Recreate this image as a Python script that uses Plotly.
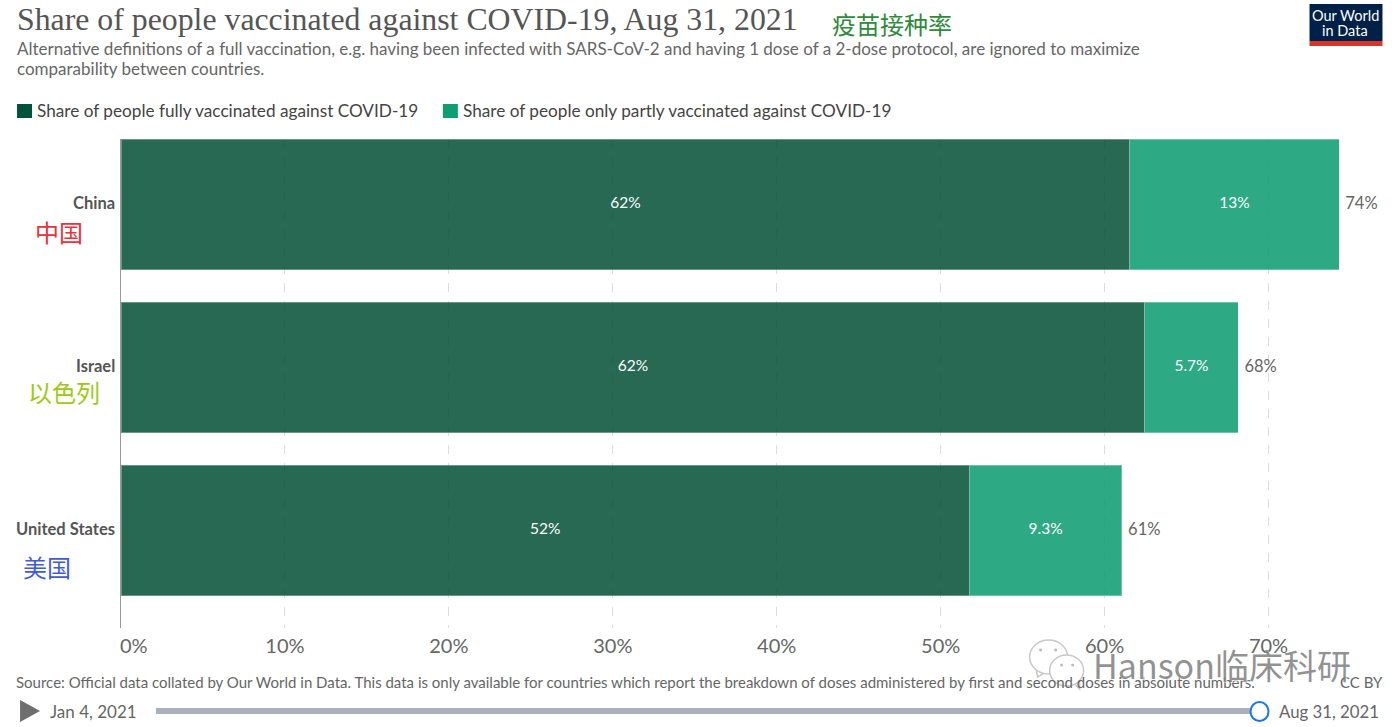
import plotly.graph_objects as go

countries = ["China", "Israel", "United States"]
fully = [61.55, 62.45, 51.75]
partly = [12.75, 5.7, 9.3]
fully_labels = ["62%", "62%", "52%"]
partly_labels = ["13%", "5.7%", "9.3%"]
total_labels = ["74%", "68%", "61%"]
cn_labels = ["中国", "以色列", "美国"]
cn_colors = ["#e8323c", "#9acb12", "#3f5bd6"]
x_ticks = [0, 10, 20, 30, 40, 50, 60, 70]
x_ticktext = ["\u00a0" * 5 + "0%", "10%", "20%", "30%", "40%", "50%", "60%", "70%"]

W, H = 1395, 727
L, R, T, B = 121, 1339.5, 139, 628
LATO = "Lato, 'Open Sans', sans-serif"
CJK = "'Noto Sans CJK SC', sans-serif"
totals = [a + b for a, b in zip(fully, partly)]


def px(x):
    return (x - L) / (R - L)


def py(y):
    return (B - y) / (B - T)


fig = go.Figure()
fig.add_bar(y=countries, x=fully, orientation="h", width=0.8, name="fully",
            marker=dict(color="#004d33", opacity=0.84, line=dict(color="rgba(255,255,255,0.3)", width=1)))
fig.add_bar(y=countries, x=partly, orientation="h", width=0.8, name="partly",
            marker=dict(color="#0f9e72", opacity=0.87, line=dict(color="rgba(255,255,255,0.3)", width=1)))
fig.add_scatter(y=countries, x=[a / 2 for a in fully], mode="text", text=fully_labels,
                textposition="middle center", textfont=dict(color="white", size=15.5, family=LATO))
fig.add_scatter(y=countries, x=[a + b / 2 for a, b in zip(fully, partly)], mode="text", text=partly_labels,
                textposition="middle center", textfont=dict(color="white", size=15.5, family=LATO))
fig.add_scatter(y=countries, x=totals, mode="text",
                text=["\u00a0\u2009" + t for t in total_labels], textposition="middle right", cliponaxis=False,
                textfont=dict(color="#666666", size=16.5, family=LATO))

ann = []


def text(x, y, s, size, color="#666666", family=LATO, anchor="left"):
    adj = {"left": -2, "right": 2, "center": 0}[anchor]
    ann.append(dict(xref="paper", yref="paper", x=px(x + adj), y=py(y), text=s, showarrow=False,
                    xanchor=anchor, yanchor="middle", font=dict(size=size, color=color, family=family),
                    align="left"))


text(17, 20, "Share of people vaccinated against COVID-19, Aug 31, 2021", 31.8, "#555555",
     "'Liberation Serif', 'DejaVu Serif', serif")
text(832, 24, "疫苗接种率", 24, "#2f8a3a", CJK)
text(17, 49, "Alternative definitions of a full vaccination, e.g. having been infected with SARS-CoV-2 and having 1 dose of a 2-dose protocol, are ignored to maximize", 17)
text(17, 68.5, "comparability between countries.", 17)
text(37, 110.5, "Share of people fully vaccinated against COVID-19", 17.2, "#444444")
text(463, 110.5, "Share of people only partly vaccinated against COVID-19", 17.2, "#444444")
for lab, col, x, y in zip(cn_labels, cn_colors, [35, 28, 23], [231.5, 391.5, 566.5]):
    text(x, y, lab, 24, col, CJK)
for name in countries:
    ann.append(dict(xref="paper", yref="y", x=px(117), y=name, yshift=2, text=name, showarrow=False,
                    xanchor="right", yanchor="middle",
                    font=dict(size=16.5, color="#555555", family=LATO, weight="bold")))
text(16, 682, "Source: Official data collated by Our World in Data. This data is only available for countries which report the breakdown of doses administered by first and second doses in absolute numbers.", 15)
text(1384, 682, "CC BY", 15, anchor="right")
text(50, 711, "Jan 4, 2021", 17)
text(1279, 711, "Aug 31, 2021", 16.8)
text(1346, 15, "Our World", 14.5, "white", anchor="center")
text(1346, 31, "in Data", 14.5, "white", anchor="center")

shapes = []


def rect(x0, y0, x1, y1, fill):
    shapes.append(dict(type="rect", xref="paper", yref="paper", x0=px(x0), x1=px(x1), y0=py(y0), y1=py(y1),
                       fillcolor=fill, line=dict(width=0)))


def circle(x0, y0, x1, y1, fill, line, width=1.5):
    shapes.append(dict(type="circle", xref="paper", yref="paper", x0=px(x0), x1=px(x1), y0=py(y0), y1=py(y1),
                       fillcolor=fill, line=dict(width=width, color=line)))


def tri(a, b, c, fill, line=None):
    shapes.append(dict(type="path", xref="paper", yref="paper", fillcolor=fill,
                       line=dict(width=1.5 if line else 0, color=line or fill),
                       path=f"M {px(a[0])} {py(a[1])} L {px(b[0])} {py(b[1])} L {px(c[0])} {py(c[1])} Z"))


rect(17, 104, 32, 118, "#00533a")
rect(443, 104, 458, 118, "#0f9e72")
rect(1310, 4, 1383, 41, "#002147")
rect(1310, 41, 1383, 46, "#d73527")
rect(156, 708, 1260, 714, "#a9b1bc")
circle(1251, 702, 1269, 721, "white", "#1a78e6", 2)
tri((20, 700), (40, 711), (20, 722), "#6e6e6e")
tri((1036, 666), (1038, 677), (1048, 671), "white", "#c8c8c8")
circle(1030, 640, 1068, 674, "white", "#c8c8c8")
tri((1073, 682), (1080, 689), (1080, 677), "white", "#c8c8c8")
circle(1050, 655, 1084, 686, "white", "#c8c8c8")
for ex, ey in [(1041, 650), (1056, 650), (1062, 665), (1073, 665)]:
    circle(ex - 1.5, ey - 1.5, ex + 1.5, ey + 1.5, "#bbbbbb", "#bbbbbb", 0)

fig.update_layout(
    width=W, height=H, autosize=False, paper_bgcolor="white", plot_bgcolor="white",
    margin=dict(l=L, r=W - R, t=T, b=H - B, autoexpand=False), barmode="stack", showlegend=False,
    annotations=ann, shapes=shapes, font=dict(family=LATO),
    xaxis=dict(range=[0, 74.3], tickvals=x_ticks, ticktext=x_ticktext, showgrid=True, griddash="dash",
               gridcolor="#dddddd", gridwidth=1, zeroline=False, showline=False, ticks="",
               tickfont=dict(size=20, color="#666666", family=LATO), ticklabelstandoff=4),
    yaxis=dict(categoryorder="array", categoryarray=countries, range=[2.598, -0.402], showgrid=False,
               zeroline=False, showline=True, linecolor="#999999", linewidth=1, ticks="",
               showticklabels=False),
)
fig.add_annotation(xref="paper", yref="paper", x=px(1091), y=py(664), text="Hanson临床科研", showarrow=False,
                   xanchor="left", yanchor="middle",
                   font=dict(size=34, color="rgba(110,110,110,0.75)", family=CJK, shadow="1px 1px 1px white"))
fig.write_html("out.html", post_script="document.body.style.margin='0';",
               config={"displayModeBar": False})
